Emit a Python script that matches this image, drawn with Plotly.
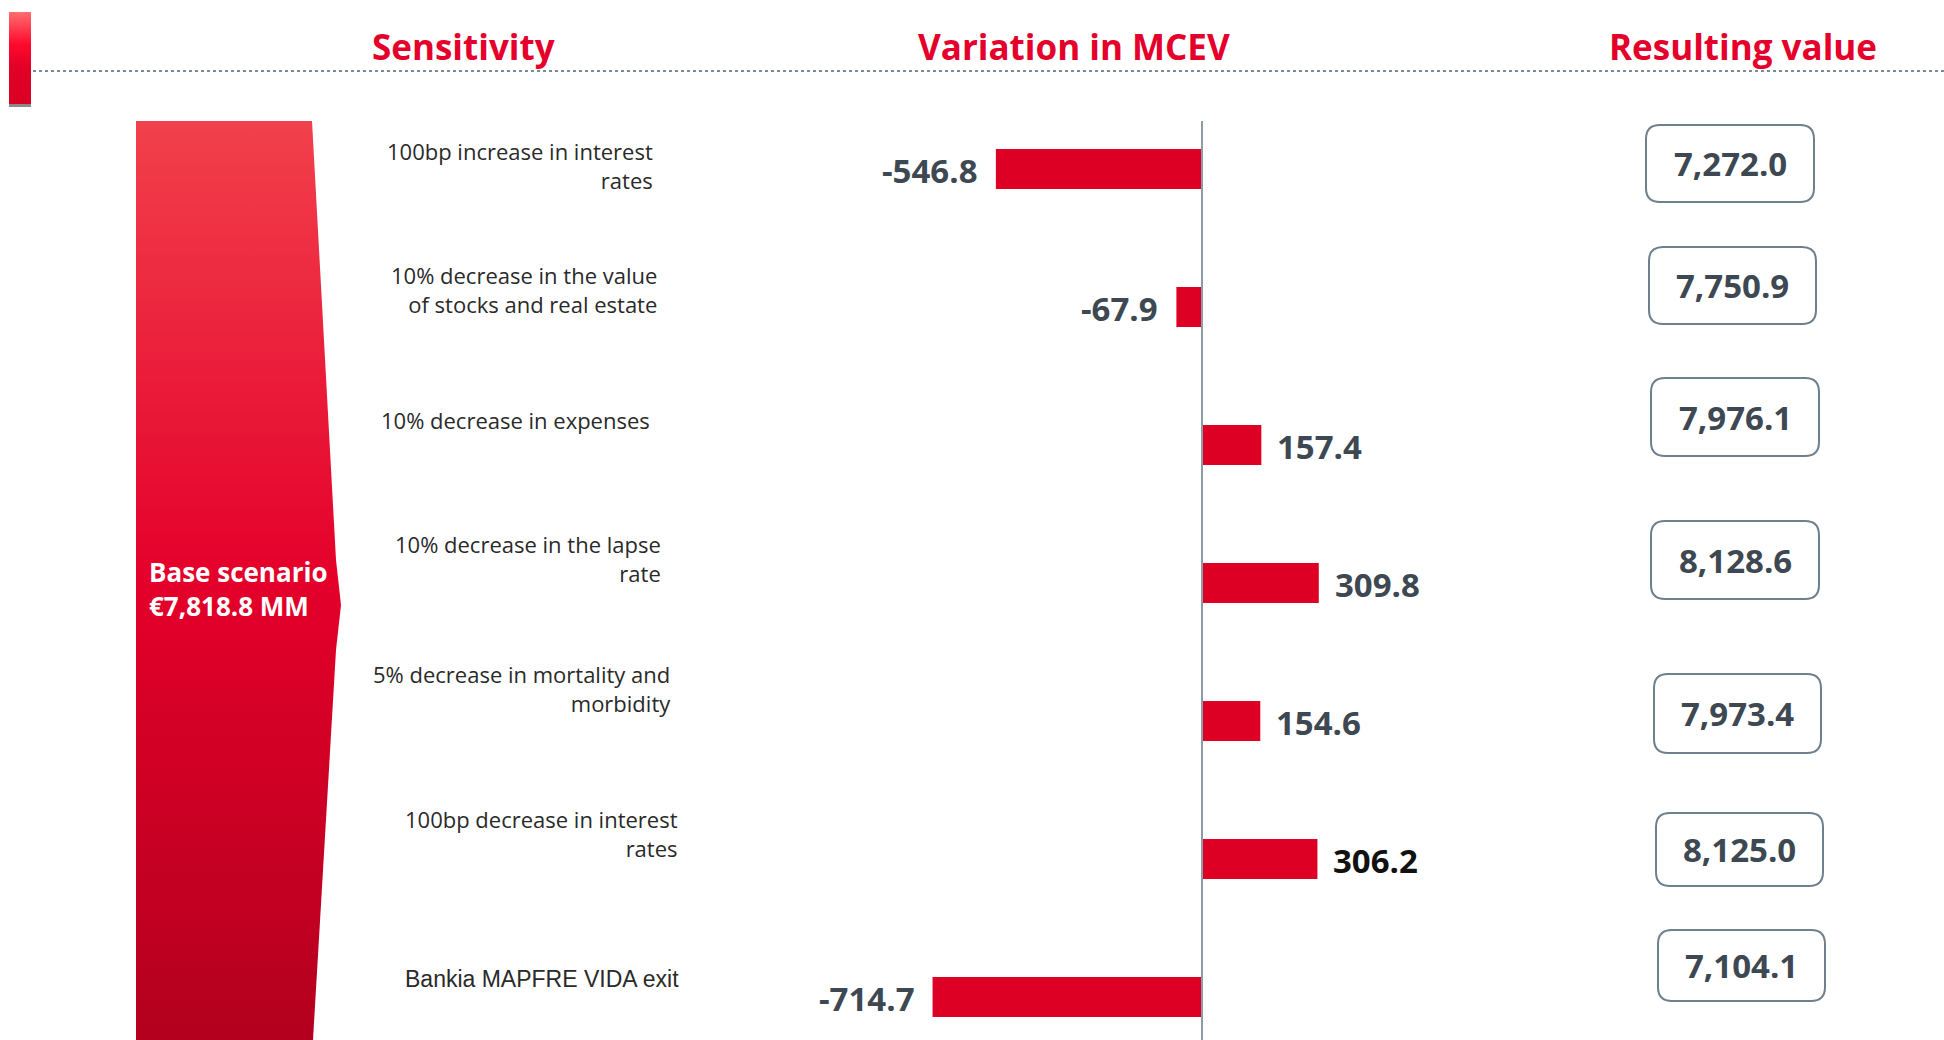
import plotly.graph_objects as go

# ---------------- data ----------------
SENSITIVITIES = [
    "100bp increase in interest<br>rates",
    "10% decrease in the value<br>of stocks and real estate",
    "10% decrease in expenses",
    "10% decrease in the lapse<br>rate",
    "5% decrease in mortality and<br>morbidity",
    "100bp decrease in interest<br>rates",
    "Bankia MAPFRE VIDA exit",
]
VARIATION = [-546.8, -67.9, 157.4, 309.8, 154.6, 306.2, -714.7]
RESULTING = [7272.0, 7750.9, 7976.1, 8128.6, 7973.4, 8125.0, 7104.1]
BASE_VALUE = 7818.8
HEADERS = ["Sensitivity", "Variation in MCEV", "Resulting value"]

# ---------------- layout geometry (pixels) ----------------
W, H = 1944, 1040
ZERO_PX = 1202
PX_PER_UNIT = 0.377
ROW0_PX = 169
ROW_PX = 138

RED = "#E4002B"
BAR_RED = "#DE0024"
SLATE = "#3D4852"

LABEL_POS = [(655, 165), (659, 289), (652, 420), (663, 558), (673, 688), (680, 833), (681, 979)]
BOX_POS = [(1646, 125, 1814, 202), (1649, 247, 1816, 324), (1651, 378, 1819, 456),
           (1651, 521, 1819, 599), (1654, 674, 1821, 753), (1656, 813, 1823, 886),
           (1658, 930, 1825, 1001)]
HEADER_X = [463, 1074, 1743]

rows = list(range(len(VARIATION)))

fig = go.Figure()

# funnel shape (base scenario)
fig.add_trace(go.Scatter(
    x=[136, 312, 336, 341, 336, 313, 136, 136],
    y=[121, 121, 560, 605, 650, 1040, 1040, 121],
    mode="lines", line=dict(width=0), fill="toself",
    fillgradient=dict(type="vertical",
                      colorscale=[[0, "#B3001E"], [0.5, "#E4002A"], [1, "#F2404C"]]),
    xaxis="x2", yaxis="y2", hoverinfo="skip", showlegend=False,
))
# small accent bar top-left
fig.add_trace(go.Scatter(
    x=[9, 31, 31, 9, 9], y=[12, 12, 104, 104, 12],
    mode="lines", line=dict(width=0), fill="toself",
    fillgradient=dict(type="vertical",
                      colorscale=[[0, "#D80022"], [0.4, "#E20026"], [0.65, "#FF0A2E"], [1, "#FF6E6E"]]),
    xaxis="x2", yaxis="y2", hoverinfo="skip", showlegend=False,
))

# bars
fig.add_trace(go.Bar(
    x=VARIATION, y=rows, orientation="h", width=0.29,
    marker=dict(color=BAR_RED, line=dict(width=0)),
    hoverinfo="skip", showlegend=False,
))

shapes = []
annotations = []

# accent bar bottom gray
shapes.append(dict(type="rect", xref="x2", yref="y2", x0=9, x1=31, y0=104, y1=107,
                   fillcolor="#8A8A8A", line=dict(width=0), layer="above"))
# dotted header rule
shapes.append(dict(type="line", xref="x2", yref="y2", x0=33, x1=W, y0=71, y1=71,
                   line=dict(color="#7C8A95", width=2, dash="dot")))
# zero axis line
shapes.append(dict(type="line", xref="x", yref="y2", x0=0, x1=0, y0=121, y1=H,
                   line=dict(color="#8C9BA6", width=2)))

# headers
for text, hx in zip(HEADERS, HEADER_X):
    annotations.append(dict(xref="x2", yref="y2", x=hx, y=46, text=f"<b>{text}</b>",
                            showarrow=False, xanchor="center", yanchor="middle",
                            font=dict(family="Open Sans", size=35, color=RED)))

# base scenario text
annotations.append(dict(xref="x2", yref="y2", x=147, y=589,
                        text=f"<b>Base scenario<br>€{BASE_VALUE:,.1f} MM</b>",
                        showarrow=False, xanchor="left", yanchor="middle", align="left",
                        font=dict(family="Open Sans", size=26, color="white")))

# sensitivity labels
for i, (lab, (lx, ly)) in enumerate(zip(SENSITIVITIES, LABEL_POS)):
    last = i == len(SENSITIVITIES) - 1
    annotations.append(dict(xref="x2", yref="y2", x=lx, y=ly, text=lab, showarrow=False,
                            xanchor="right", yanchor="middle", align="right",
                            font=dict(family="Liberation Sans" if last else "Open Sans",
                                      size=23 if last else 22, color="#2A2A2A")))

# variation value labels
for i, v in enumerate(VARIATION):
    col = "#111111" if i == 5 else SLATE
    annotations.append(dict(xref="x", yref="y", x=v, y=i, text=f"<b>{v:,.1f}</b>",
                            showarrow=False, xanchor="right" if v < 0 else "left",
                            yanchor="middle", xshift=-16 if v < 0 else 14, yshift=-1,
                            font=dict(family="Open Sans", size=33, color=col)))


def rrect(x0, y0, x1, y1, r):
    return (f"M{x0 + r},{y0} L{x1 - r},{y0} Q{x1},{y0} {x1},{y0 + r} "
            f"L{x1},{y1 - r} Q{x1},{y1} {x1 - r},{y1} L{x0 + r},{y1} "
            f"Q{x0},{y1} {x0},{y1 - r} L{x0},{y0 + r} Q{x0},{y0} {x0 + r},{y0} Z")


for val, (bx0, by0, bx1, by1) in zip(RESULTING, BOX_POS):
    shapes.append(dict(type="path", xref="x2", yref="y2", path=rrect(bx0, by0, bx1, by1, 14),
                       line=dict(color="#6F7F8C", width=2), fillcolor="rgba(0,0,0,0)"))
    annotations.append(dict(xref="x2", yref="y2", x=(bx0 + bx1) / 2, y=(by0 + by1) / 2,
                            text=f"<b>{val:,.1f}</b>", showarrow=False,
                            xanchor="center", yanchor="middle",
                            font=dict(family="Open Sans", size=33, color=SLATE)))

fig.update_layout(
    width=W, height=H,
    margin=dict(l=0, r=0, t=0, b=0),
    paper_bgcolor="white", plot_bgcolor="white",
    showlegend=False,
    xaxis=dict(range=[-ZERO_PX / PX_PER_UNIT, (W - ZERO_PX) / PX_PER_UNIT], visible=False,
               fixedrange=True),
    yaxis=dict(range=[(H - ROW0_PX) / ROW_PX, -ROW0_PX / ROW_PX], visible=False,
               fixedrange=True),
    xaxis2=dict(range=[0, W], overlaying="x", visible=False, fixedrange=True),
    yaxis2=dict(range=[H, 0], overlaying="y", visible=False, fixedrange=True),
    shapes=shapes,
    annotations=annotations,
)

fig.write_html("out.html", config={"displayModeBar": False},
               post_script="document.body.style.margin='0';document.body.style.overflow='hidden';")
